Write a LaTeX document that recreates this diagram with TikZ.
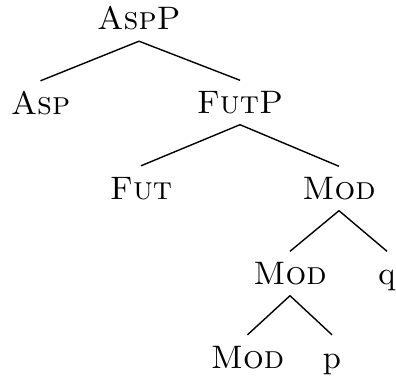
\documentclass[tikz,border=0pt]{standalone}
\usepackage{graphicx}
\begin{document}
\begin{tikzpicture}[x=1pt,y=-1pt,
  lab/.style={anchor=base,inner xsep=0pt,inner ysep=11pt,text height=22pt,text depth=0pt,font=\fontsize{10}{12}\selectfont},
  edge/.style={line width=1.4pt}]
\useasboundingbox (0,0) rectangle (396,377);
\node[lab] (AspP) at (139,30) {\scalebox{3.25}{\textsc{AspP}}};
\node[lab] (Asp) at (40.5,114) {\scalebox{3.25}{\textsc{Asp}}};
\node[lab] (FutP) at (240,113.5) {\scalebox{3.25}{\textsc{FutP}}};
\node[lab] (Fut) at (141,199) {\scalebox{3.25}{\textsc{Fut}}};
\node[lab] (Mod1) at (339,199.5) {\scalebox{3.25}{\textsc{Mod}}};
\node[lab] (Mod2) at (290,284.5) {\scalebox{3.25}{\textsc{Mod}}};
\node[lab] (q) at (387,284.5) {\scalebox{3.25}{q}};
\node[lab] (Mod3) at (247.5,368) {\scalebox{3.25}{\textsc{Mod}}};
\node[lab] (p) at (332,368) {\scalebox{3.25}{p}};
\draw[edge] (AspP.south) -- (Asp.north);
\draw[edge] (AspP.south) -- (FutP.north);
\draw[edge] (FutP.south) -- (Fut.north);
\draw[edge] (FutP.south) -- (Mod1.north);
\draw[edge] (Mod1.south) -- (Mod2.north);
\draw[edge] (Mod1.south) -- (q.north);
\draw[edge] (Mod2.south) -- (Mod3.north);
\draw[edge] (Mod2.south) -- (p.north);
\end{tikzpicture}
\end{document}
